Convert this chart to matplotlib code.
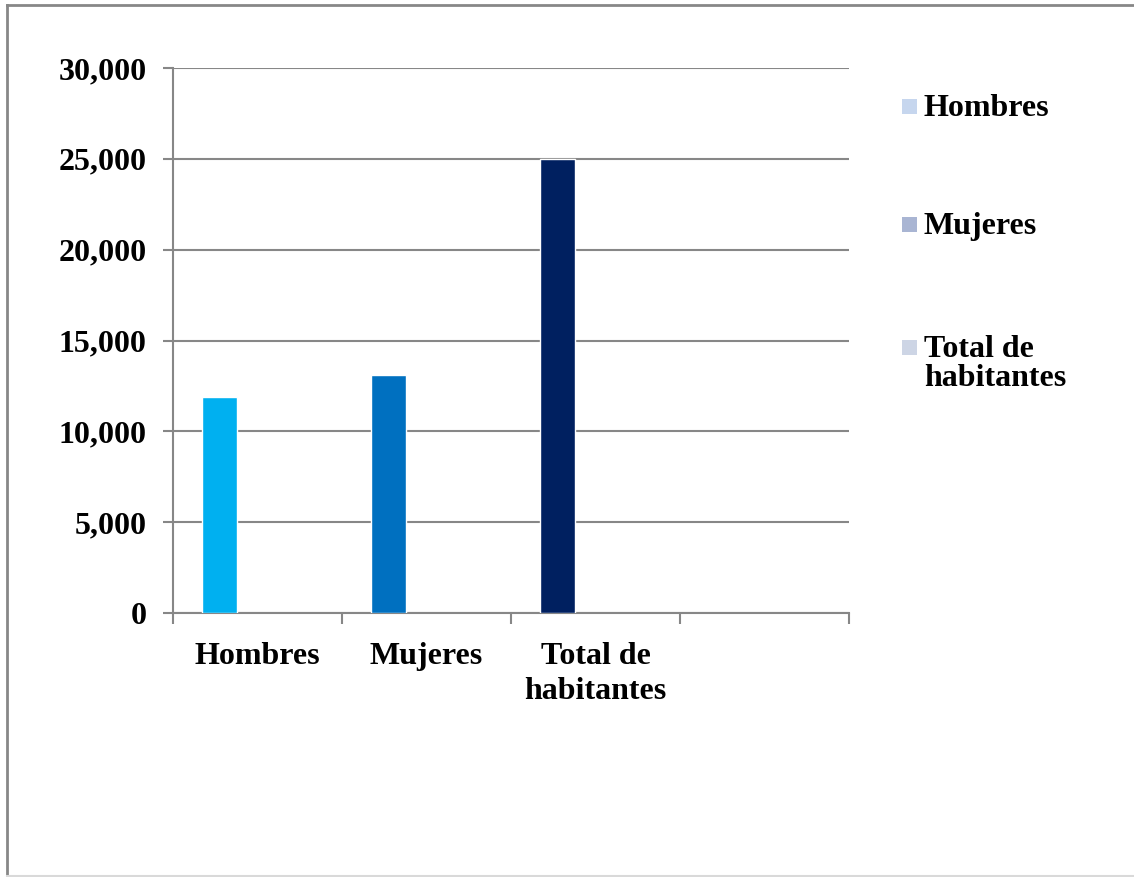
import matplotlib.pyplot as plt
from matplotlib.lines import Line2D
from matplotlib.patches import Rectangle
import numpy as np

# datos
categorias = ['Hombres', 'Mujeres', 'Total de\nhabitantes']
valores = [11900, 13100, 25000]
colores_barras = ['#00b0f0', '#0070c0', '#002060']
leyenda_etiquetas = ['Hombres', 'Mujeres', 'Total de\nhabitantes']
leyenda_colores = ['#c6d6ee', '#a9b5d3', '#cdd5e5']
y_ticks = [0, 5000, 10000, 15000, 20000, 25000, 30000]

plt.rcParams['font.family'] = ['Liberation Serif', 'DejaVu Serif']
fs = 23
gris = '#878787'

fig = plt.figure(figsize=(11.34, 8.77), dpi=100)
ax = fig.add_axes([173 / 1134, 1 - 613 / 877, (849 - 173) / 1134, (613 - 68) / 877])

x = np.arange(len(categorias))
ax.bar(x - 0.222, valores, width=0.207, color=colores_barras,
       edgecolor='white', linewidth=1.0, zorder=3)

ax.set_xlim(-0.5, 3.5)
ax.set_ylim(0, 30000)
ax.set_yticks(y_ticks)
ax.set_yticklabels([f'{v:,}' for v in y_ticks], fontsize=fs, fontweight='bold')

# ticks en los bordes de categoria, etiquetas en el centro
ax.set_xticks(np.arange(-0.5, 4.0, 1.0))
ax.set_xticklabels([])
ax.set_xticks(x, minor=True)
ax.set_xticklabels(categorias, minor=True, fontsize=fs, fontweight='bold',
                   linespacing=1.25)
ax.tick_params(axis='x', which='minor', length=0, pad=21)
ax.tick_params(axis='x', which='major', length=8, width=1.5, color=gris, direction='out')
ax.tick_params(axis='y', length=7, width=1.5, color=gris, pad=12)

ax.grid(axis='y', color=gris, linewidth=1.5, zorder=0)
for s in ['top', 'right']:
    ax.spines[s].set_visible(False)
for s in ['left', 'bottom']:
    ax.spines[s].set_color(gris)
    ax.spines[s].set_linewidth(1.5)

# leyenda manual
W, H = 1134, 877
ys = [106.5, 224.5, 347.5]
for lab, col, yc in zip(leyenda_etiquetas, leyenda_colores, ys):
    fig.patches.append(Rectangle((902 / W, 1 - (yc + 7.5) / H), 15 / W, 15 / H,
                                 transform=fig.transFigure, facecolor=col,
                                 edgecolor='none'))
    fig.text(924 / W, 1 - (yc - 12.5) / H, lab, fontsize=fs, fontweight='bold',
             ha='left', va='top', linespacing=1.0)

# borde del grafico
fig.lines.append(Line2D([6.5 / W, 6.5 / W], [0, 1 - 4.5 / H], transform=fig.transFigure,
                        color=gris, linewidth=2))
fig.lines.append(Line2D([6.5 / W, 1], [1 - 4.5 / H, 1 - 4.5 / H], transform=fig.transFigure,
                        color=gris, linewidth=2))
fig.lines.append(Line2D([6.5 / W, 1], [0.7 / H, 0.7 / H], transform=fig.transFigure,
                        color='#d9d9d9', linewidth=1.5))

fig.savefig('out.png', dpi=100)
